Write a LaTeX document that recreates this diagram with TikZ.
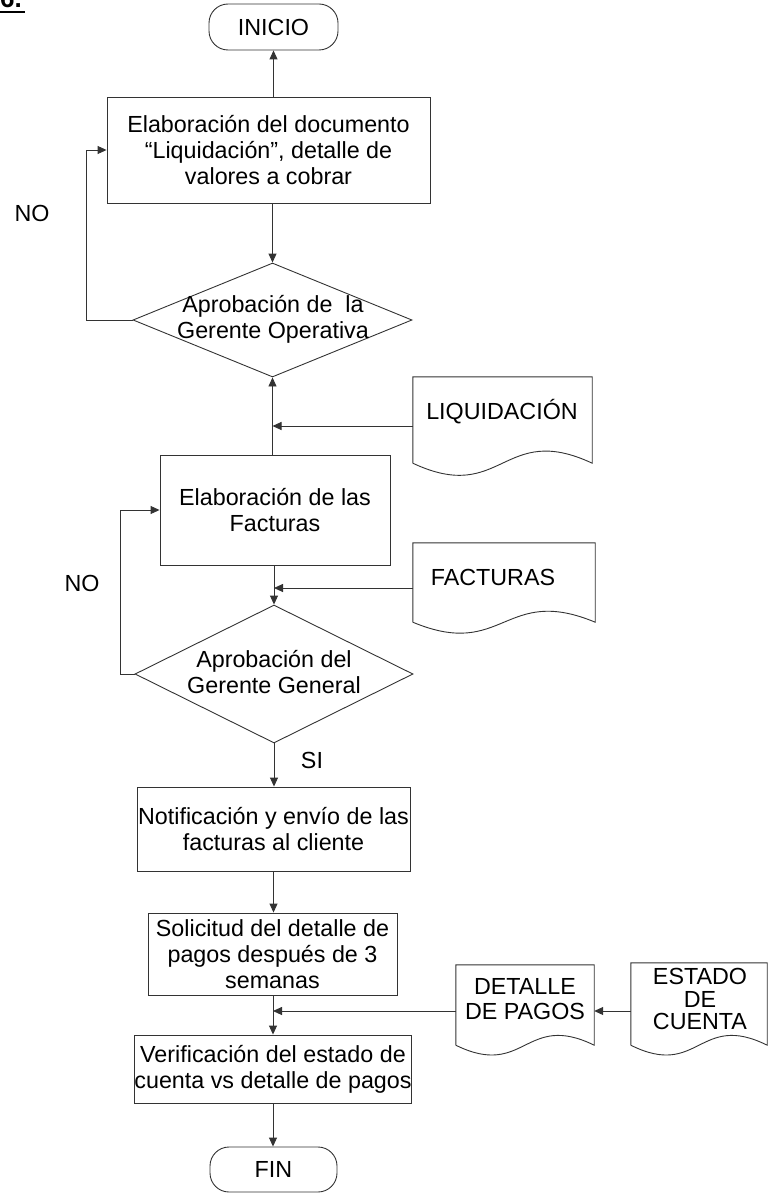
\documentclass[tikz,border=0pt]{standalone}
\usepackage{fontspec}
\setmainfont{Liberation Sans}
\usetikzlibrary{shapes.geometric,arrows.meta,calc}
\newcommand\docpath[2]{\draw[ln] (#1.south west) -- (#1.north west) -- (#1.north east) -- (#1.south east) .. controls ($(#1.south)+(0,-#2)$) and ($(#1.south)+(0,#2)$) .. (#1.south west);}
\begin{document}
\begin{tikzpicture}[x=1pt,y=-1pt,
  every node/.append style={font=\fontsize{23.3}{25.8}\selectfont},
  ln/.style={draw=black!80, line width=0.9pt},
  arr/.style={ln, -{Triangle[length=9pt,width=8pt]}},
  box/.style={ln, rectangle, inner sep=0pt, align=center},
  term/.style={ln, rectangle, rounded corners=19pt, inner sep=0pt},
  dec/.style={ln, diamond, inner sep=0pt},
  docbody/.style={rectangle, inner sep=0pt},
  txt/.style={inner sep=0pt, align=center},
  lbl/.style={inner sep=0pt}]
\useasboundingbox (0,0) rectangle (768,1193);
% heading (partly cut off, as in the reference)
\node[anchor=base west, inner sep=0pt, font=\fontsize{26}{28}\selectfont\bfseries] (six) at (0,8) {6.};
\draw[line width=2.4pt] ($(six.base west)+(0,4)$) -- ($(six.base east)+(3,4)$);
% main column
\node[term, minimum width=129pt, minimum height=46pt] (ini) at (273.5,27) {INICIO};
\node[box, minimum width=323pt, minimum height=106pt] (b1) at (268.5,150)
  {Elaboración del documento\\“Liquidación”, detalle de\\valores a cobrar};
\node[dec, minimum width=279pt, minimum height=114pt] (d1) at (272.5,320) {};
\node[txt] (d1t) at (273,319) {Aprobación de\ \ la\\Gerente Operativa};
\node[box, minimum width=230pt, minimum height=110pt] (b2) at (275,510)
  {Elaboración de las\\Facturas};
\node[dec, minimum width=278pt, minimum height=138pt] (d2) at (274,674) {};
\node[txt] (d2t) at (274,672) {Aprobación del\\Gerente General};
\node[box, minimum width=273pt, minimum height=84pt] (b3) at (273.5,829)
  {Notificación y envío de las\\facturas al cliente};
\node[box, minimum width=249pt, minimum height=82pt] (b4) at (272.5,954)
  {Solicitud del detalle de\\pagos después de 3\\semanas};
\node[box, minimum width=272pt, minimum height=68pt] (b5) at (273,1069)
  {Verificación del estado de\\cuenta vs detalle de pagos};
\node[term, minimum width=127pt, minimum height=45pt] (fin) at (273.5,1169.5) {FIN};
% documents
\node[docbody, minimum width=179pt, minimum height=86pt] (liq) at (502.5,420) {};
\docpath{liq}{42}
\node[txt] (liqt) at (502,412) {LIQUIDACIÓN};
\node[docbody, minimum width=182pt, minimum height=79pt] (fac) at (504,582.5) {};
\docpath{fac}{38}
\node[txt] (fact) at (493,577) {FACTURAS};
\node[docbody, minimum width=138pt, minimum height=80pt] (det) at (525,1005) {};
\docpath{det}{34}
\node[txt] (dett) at (525,999) {DETALLE\\DE PAGOS};
\node[docbody, minimum width=136pt, minimum height=82pt] (est) at (699,1004) {};
\docpath{est}{34}
\node[txt, font=\fontsize{23.3}{22.8}\selectfont] (estt) at (700,999) {ESTADO\\DE\\CUENTA};
% labels
\node[lbl] (no1) at (32,213) {NO};
\node[lbl] (no2) at (82,583) {NO};
\node[lbl] (si) at (312,760) {SI};
% connectors
\draw[arr] (b1.north -| ini) -- (ini.south);
\draw[arr] (b1.south -| d1) -- (d1.north);
\draw[arr] (d1.west) -- ++(-46,0) |- (b1.west);
\draw[arr] (b2.north -| d1) -- (d1.south);
\draw[arr] ([yshift=-6pt]liq.west) -- ([yshift=-6pt]liq.west -| d1.south);
\draw[arr] (b2.south -| d2) -- (d2.north);
\draw[arr] ([yshift=-5.5pt]fac.west) -- ([yshift=-5.5pt]fac.west -| d2.north);
\draw[arr] (d2.west) -- ++(-14,0) |- (b2.west);
\draw[arr] (d2.south) -- (b3.north -| d2.south);
\draw[arr] (b3.south) -- (b4.north -| b3.south);
\draw[arr] (b4.south -| b5) -- (b5.north);
\draw[arr] ([yshift=-7pt]est.west) -- ([yshift=-7pt]est.west -| det.east);
\draw[arr] ([yshift=-6pt]det.west) -- ([yshift=-6pt]det.west -| b5.north);
\draw[arr] (b5.south) -- (fin.north -| b5.south);
\end{tikzpicture}
\end{document}
